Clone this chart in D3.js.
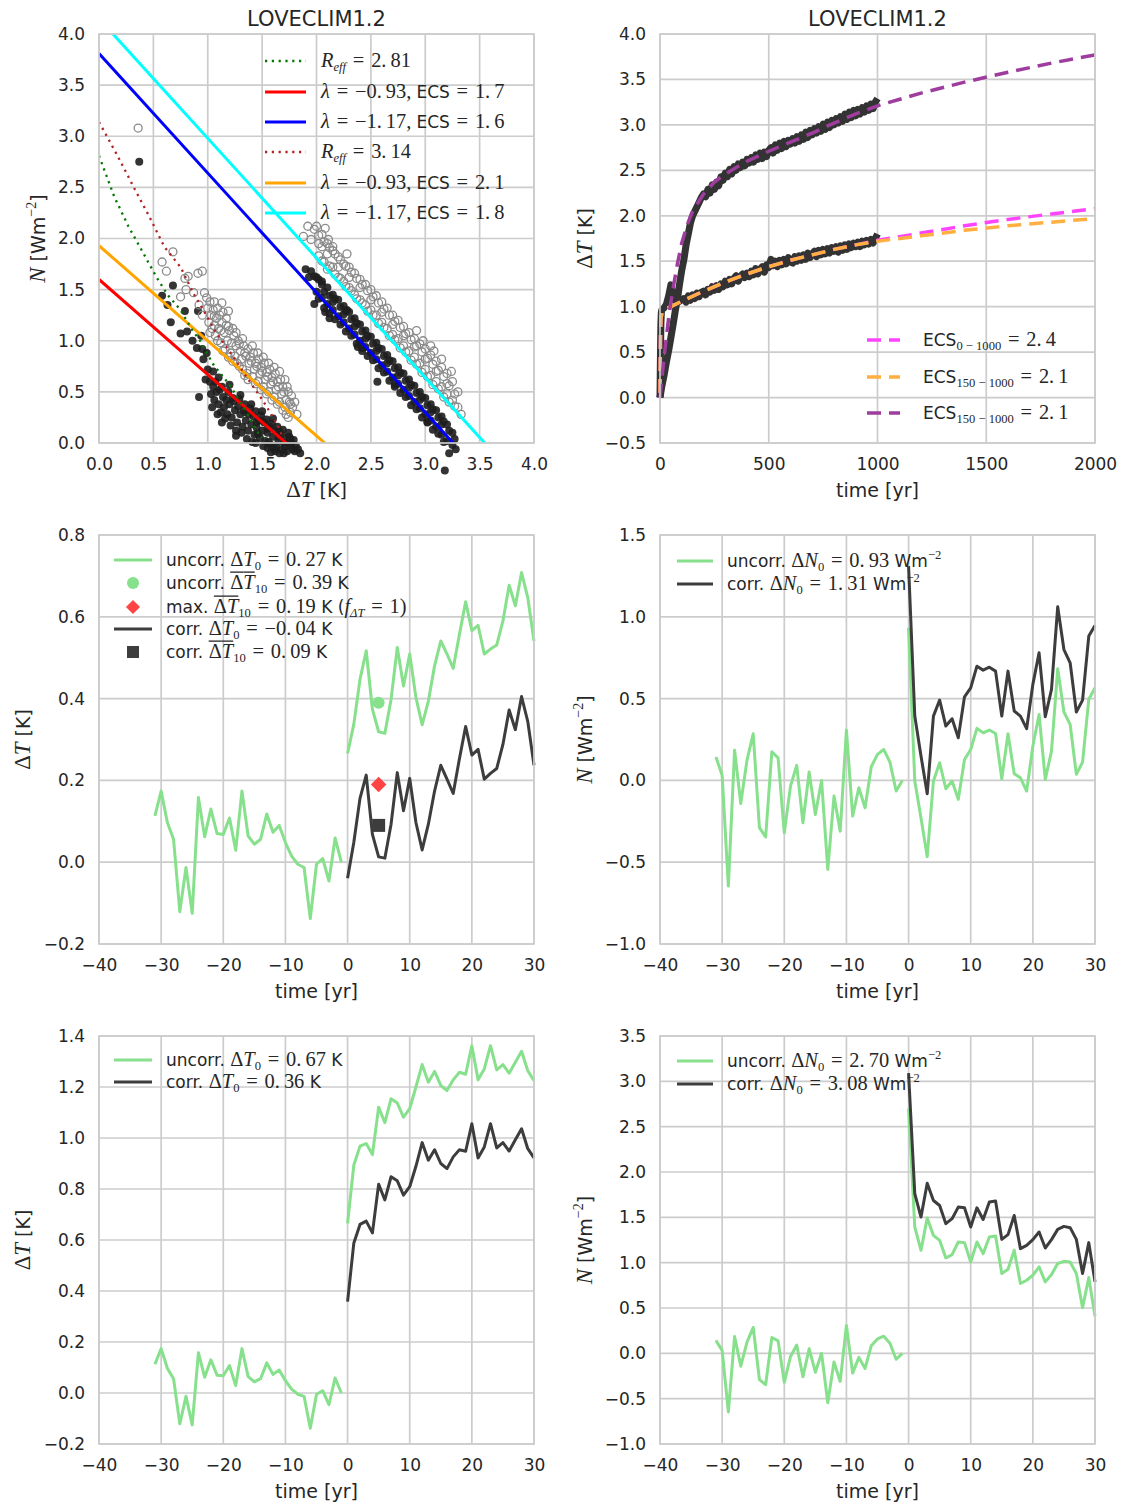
<!DOCTYPE html>
<html>
<head>
<meta charset="utf-8">
<script src="https://cdn.jsdelivr.net/npm/d3@7"></script>
<style>body{margin:0;background:#fff}</style>
</head>
<body>
<div id="chart"></div>
<script>
// ---------- data ----------
const title = 'LOVECLIM1.2';

// top left: N vs dT scatter (two runs), filled = dark, open = grey
const scatDarkA = [[0.37,2.75],[0.68,1.54],[0.58,1.44],[0.63,1.35],[0.66,1.18],[0.75,1.07],[0.81,1.09],[0.79,1.29],[0.91,1.29],[0.92,0.45],[0.86,1.0],[0.9,0.93],[0.96,0.82],[0.99,0.88],[0.94,1.05],[1.0,0.72],
  [1.02,0.6],[1.03,0.48],[1.05,0.55],[1.06,0.42],[1.08,0.5],[1.1,0.38],[1.11,0.52],[1.12,0.3],[1.14,0.45],[1.15,0.35],[1.17,0.42],[1.18,0.28],
  [1.2,0.38],[1.22,0.25],[1.23,0.44],[1.25,0.32],[1.27,0.2],[1.28,0.36],[1.3,0.28],[1.32,0.16],[1.33,0.32],[1.35,0.22],[1.37,0.12],[1.38,0.28],
  [1.4,0.18],[1.42,0.26],[1.43,0.08],[1.45,0.15],[1.47,0.22],[1.48,0.05],[1.5,0.12],[1.52,0.2],[1.53,0.02],[1.55,0.1],[1.57,0.16],[1.58,-0.02],
  [1.6,0.06],[1.62,0.12],[1.63,-0.04],[1.65,0.02],[1.67,0.08],[1.68,-0.06],[1.7,0.0],[1.72,0.05],[1.73,-0.08],[1.75,-0.02],[1.76,0.04],[1.78,-0.06],
  [1.62,-0.08],[1.8,-0.08],[1.55,-0.05],[1.85,-0.1],[1.13,0.2],[1.26,0.12],[1.44,0.0],[1.66,-0.1],
  [1.04,0.35],[1.07,0.6],[1.09,0.28],[1.13,0.55],[1.16,0.24],[1.19,0.5],[1.21,0.17],[1.24,0.41],[1.26,0.07],[1.29,0.43],[1.31,0.1],[1.34,0.38],
  [1.36,0.04],[1.39,0.34],[1.41,0.01],[1.44,0.31],[1.46,0.09],[1.49,0.27],[1.51,-0.03],[1.54,0.23],[1.56,0.01],[1.59,0.19],[1.61,-0.05],[1.64,0.16],
  [1.66,0.11],[1.69,0.13],[1.71,-0.04],[1.74,0.1],[1.77,0.0],[1.79,0.03],[1.81,-0.03],[1.6,0.24],[1.5,0.31],[1.4,0.38],[1.3,0.47],[1.2,0.57],
  [1.1,0.64],[1.05,0.7],[0.98,0.62],[0.95,0.92],[1.35,0.3],[1.45,0.2],[1.55,0.14],[1.65,0.06],[1.75,0.06],[1.7,-0.1],[1.58,-0.09],[1.83,-0.06]];
const scatOpenA = [[0.36,3.08],[0.68,1.87],[0.58,1.77],[0.62,1.68],[0.75,1.43],[0.79,1.61],[0.82,1.63],[0.91,1.66],[0.95,1.68],[0.8,1.5],[0.87,1.47],[0.97,1.47],[0.99,1.42],[1.06,1.38],[1.13,1.37],[1.19,1.29],[0.92,1.35],[0.95,1.25],
  [1.0,1.32],[1.01,1.18],[1.03,1.25],[1.02,1.08],[1.05,1.3],[1.06,1.15],[1.08,1.22],[1.07,1.05],[1.1,1.12],[1.11,1.25],[1.12,0.98],[1.13,1.18],
  [1.15,1.08],[1.16,0.92],[1.17,1.15],[1.18,1.0],[1.2,1.1],[1.21,0.88],[1.22,0.98],[1.24,1.05],[1.25,0.85],[1.26,0.95],[1.28,1.0],[1.27,0.78],
  [1.3,0.9],[1.31,0.82],[1.33,0.95],[1.32,0.72],[1.35,0.85],[1.36,0.68],[1.38,0.78],[1.37,0.92],[1.4,0.8],[1.41,0.65],[1.43,0.72],[1.42,0.88],
  [1.45,0.75],[1.46,0.6],[1.48,0.68],[1.47,0.82],[1.5,0.7],[1.51,0.55],[1.53,0.62],[1.52,0.78],[1.55,0.65],[1.56,0.5],[1.58,0.58],[1.57,0.72],
  [1.6,0.6],[1.61,0.45],[1.63,0.52],[1.62,0.68],[1.65,0.55],[1.66,0.4],[1.68,0.48],[1.67,0.62],[1.7,0.5],[1.71,0.35],[1.72,0.42],[1.73,0.55],
  [1.75,0.4],[1.76,0.3],[1.74,0.25],[1.77,0.46],[1.82,0.28],
  [1.02,1.38],[1.04,1.12],[1.06,1.24],[1.09,1.32],[1.09,1.0],[1.12,1.1],[1.14,1.28],[1.14,0.9],[1.17,1.22],[1.19,0.84],[1.19,1.14],[1.23,1.12],
  [1.23,0.8],[1.26,1.08],[1.29,0.75],[1.29,0.97],[1.32,1.02],[1.34,0.66],[1.34,0.88],[1.37,0.62],[1.39,0.84],[1.41,0.95],[1.44,0.58],[1.44,0.78],
  [1.46,0.88],[1.49,0.52],[1.49,0.74],[1.51,0.84],[1.54,0.48],[1.54,0.69],[1.56,0.78],[1.59,0.42],[1.59,0.64],[1.61,0.74],[1.64,0.38],[1.64,0.6],
  [1.66,0.7],[1.69,0.32],[1.69,0.55],[1.71,0.62],[1.74,0.5],[1.76,0.38],[1.78,0.35],[1.8,0.4],[1.72,0.28]];
const scatDarkB = [[1.9,1.7],[1.95,1.68],[1.98,1.63],[2.05,1.58],[1.93,1.62],[1.98,1.36],[2.08,1.28],[2.38,0.94],[2.56,0.6],
  [2.0,1.62],[2.0,1.48],[2.05,1.55],[2.05,1.42],[2.1,1.52],[2.1,1.36],[2.15,1.45],[2.15,1.3],[2.15,1.38],[2.2,1.4],[2.2,1.24],
  [2.25,1.34],[2.25,1.18],[2.25,1.26],[2.3,1.28],[2.3,1.12],[2.35,1.22],[2.35,1.06],[2.35,1.14],[2.4,1.16],[2.4,1.0],
  [2.45,1.1],[2.45,0.94],[2.45,1.02],[2.5,1.04],[2.5,0.88],[2.55,0.98],[2.55,0.82],[2.55,0.9],[2.6,0.92],[2.6,0.76],
  [2.65,0.86],[2.65,0.7],[2.65,0.78],[2.7,0.8],[2.7,0.64],[2.75,0.74],[2.75,0.58],[2.75,0.66],[2.8,0.68],[2.8,0.52],
  [2.85,0.62],[2.85,0.46],[2.85,0.54],[2.9,0.56],[2.9,0.4],[2.95,0.5],[2.95,0.34],[2.95,0.42],[3.0,0.44],[3.0,0.28],
  [3.05,0.38],[3.05,0.22],[3.05,0.3],[3.1,0.32],[3.1,0.16],[3.15,0.26],[3.15,0.08],[3.15,0.18],[3.2,0.18],[3.2,0.02],
  [3.25,0.1],[3.25,-0.02],[3.22,-0.1],[3.18,-0.27],[3.28,-0.06],[2.12,1.22],[2.42,0.9],[2.72,0.55],[3.02,0.2],[2.28,1.3],
  [2.02,1.6],[2.02,1.41],[2.07,1.48],[2.07,1.32],[2.12,1.44],[2.12,1.27],[2.17,1.41],[2.17,1.21],[2.22,1.33],[2.22,1.16],
  [2.27,1.29],[2.27,1.09],[2.32,1.21],[2.32,1.05],[2.37,1.17],[2.37,0.97],[2.42,1.09],[2.42,0.93],[2.47,1.05],[2.47,0.85],
  [2.52,0.97],[2.52,0.81],[2.57,0.93],[2.57,0.73],[2.62,0.85],[2.62,0.69],[2.67,0.81],[2.67,0.61],[2.72,0.73],[2.72,0.57],
  [2.77,0.69],[2.77,0.49],[2.82,0.61],[2.82,0.45],[2.87,0.57],[2.87,0.37],[2.92,0.49],[2.92,0.33],[2.97,0.45],[2.97,0.25],
  [3.02,0.37],[3.02,0.21],[3.07,0.33],[3.07,0.13],[3.12,0.25],[3.12,0.09],[3.17,0.21],[3.17,0.01],[3.22,0.12],[3.27,0.04]];
const scatOpenB = [[1.92,2.12],[1.98,2.09],[2.05,2.04],[2.11,1.99],[1.88,2.02],[1.95,1.99],[2.0,2.12],[2.08,2.1],[2.02,1.95],[2.15,1.92],
  [2.05,1.78],[2.05,1.92],[2.1,1.95],[2.1,1.7],[2.1,1.85],[2.15,1.88],[2.15,1.72],[2.2,1.82],[2.2,1.62],[2.2,1.72],
  [2.25,1.75],[2.25,1.58],[2.3,1.72],[2.3,1.52],[2.3,1.62],[2.35,1.66],[2.35,1.45],[2.4,1.6],[2.4,1.4],[2.4,1.52],
  [2.45,1.55],[2.45,1.35],[2.5,1.5],[2.5,1.3],[2.5,1.4],[2.55,1.44],[2.55,1.25],[2.6,1.38],[2.6,1.18],[2.6,1.28],
  [2.65,1.32],[2.65,1.12],[2.7,1.25],[2.7,1.06],[2.7,1.16],[2.75,1.2],[2.75,1.02],[2.8,1.14],[2.8,0.95],[2.8,1.05],
  [2.85,1.08],[2.85,0.9],[2.9,1.02],[2.9,0.84],[2.9,0.94],[2.95,0.97],[2.95,0.78],[3.0,0.92],[3.0,0.72],[3.0,0.82],
  [3.05,0.86],[3.05,0.66],[3.1,0.8],[3.1,0.6],[3.1,0.7],[3.15,0.74],[3.15,0.55],[3.2,0.68],[3.2,0.48],[3.2,0.58],
  [3.25,0.6],[3.25,0.42],[3.3,0.5],[3.3,0.35],[3.05,0.95],[3.15,0.82],[3.33,0.28],[2.92,1.1],[2.28,1.85],
  [2.02,2.03],[2.02,1.83],[2.07,1.97],[2.07,1.77],[2.12,1.91],[2.12,1.73],[2.17,1.85],[2.17,1.65],[2.22,1.79],[2.22,1.61],
  [2.27,1.73],[2.27,1.53],[2.32,1.67],[2.32,1.49],[2.37,1.61],[2.37,1.41],[2.42,1.55],[2.42,1.37],[2.47,1.49],[2.47,1.29],
  [2.52,1.43],[2.52,1.25],[2.57,1.37],[2.57,1.17],[2.62,1.31],[2.62,1.13],[2.67,1.25],[2.67,1.05],[2.72,1.19],[2.72,1.01],
  [2.77,1.13],[2.77,0.93],[2.82,1.07],[2.82,0.89],[2.87,1.01],[2.87,0.81],[2.92,0.95],[2.92,0.77],[2.97,0.89],[2.97,0.69],
  [3.02,0.83],[3.02,0.65],[3.07,0.77],[3.07,0.57],[3.12,0.71],[3.12,0.53],[3.17,0.65],[3.17,0.45],[3.22,0.56],[3.22,0.4],
  [3.27,0.48],[3.27,0.36],[3.08,0.9],[3.24,0.7],[2.98,1.0]];
// linear fits N = F + lambda*dT
const fitLambda = [-0.93, -1.17, -0.93, -1.17];
const fitForcing = [1.60, 3.81, 1.93, 4.15];
// effective forcing curves (R_eff)
const reffA = [[0,2.81],[0.14,2.41],[0.27,2.12],[0.39,1.89],[0.53,1.62],[0.63,1.45],[0.75,1.3],[0.86,1.1],[0.93,1.0],[1.05,0.77],[1.2,0.57],[1.33,0.35],[1.45,0.12],[1.5,0.05]];
const reffB = [[0,3.14],[0.17,2.81],[0.33,2.48],[0.46,2.22],[0.6,1.92],[0.75,1.72],[0.87,1.46],[0.96,1.3],[1.08,1.07],[1.2,0.9],[1.36,0.64],[1.51,0.41],[1.64,0.18],[1.68,0.08]];
const EQ = '\u2004=\u2004';
const tlLabels = [
  [['R','ri'],['eff','rib'],[EQ + '2.\u200981','r']],
  [['\u03bb','ri'],[EQ + '\u22120.\u200993, ','r'],['ECS','s'],[EQ + '1.\u20097','r']],
  [['\u03bb','ri'],[EQ + '\u22121.\u200917, ','r'],['ECS','s'],[EQ + '1.\u20096','r']],
  [['R','ri'],['eff','rib'],[EQ + '3.\u200914','r']],
  [['\u03bb','ri'],[EQ + '\u22120.\u200993, ','r'],['ECS','s'],[EQ + '2.\u20091','r']],
  [['\u03bb','ri'],[EQ + '\u22121.\u200917, ','r'],['ECS','s'],[EQ + '1.\u20098','r']]
];

// top right: dT time series of the two runs (every 10 yr after the first decade)
const runYears = [0,2,4,6,8].concat(d3.range(10, 1001, 10));
const dT_runLow = [0.0,0.45,0.8,0.93,0.96,
  0.97,0.99,1.03,1.12,1.24,1.15,1.06,1.09,1.06,1.08,
  1.09,1.05,1.12,1.07,1.13,1.09,1.15,1.11,1.16,1.17,
  1.13,1.19,1.16,1.22,1.18,1.23,1.19,1.25,1.22,1.28,
  1.24,1.30,1.25,1.31,1.34,1.28,1.33,1.36,1.32,1.37,
  1.33,1.39,1.35,1.42,1.36,1.41,1.44,1.38,1.46,1.43,
  1.52,1.45,1.50,1.44,1.51,1.46,1.52,1.47,1.54,1.49,
  1.48,1.55,1.50,1.56,1.51,1.57,1.52,1.59,1.54,1.58,
  1.61,1.55,1.62,1.57,1.63,1.58,1.64,1.59,1.65,1.61,
  1.66,1.60,1.67,1.62,1.68,1.63,1.69,1.65,1.70,1.66,
  1.71,1.66,1.72,1.68,1.73,1.69,1.74,1.70,1.75,1.80];
const dT_runHigh = [0.0,0.03,0.06,0.09,0.12,
  0.14,0.26,0.40,0.52,0.66,0.80,0.95,1.08,1.25,1.40,
  1.52,1.68,1.80,1.92,2.00,2.05,2.10,2.15,2.20,2.24,
  2.21,2.29,2.25,2.34,2.29,2.37,2.33,2.43,2.39,2.47,
  2.43,2.51,2.46,2.54,2.50,2.57,2.53,2.59,2.55,2.62,
  2.58,2.64,2.59,2.67,2.62,2.69,2.63,2.70,2.65,2.72,
  2.75,2.69,2.78,2.72,2.80,2.74,2.82,2.76,2.83,2.79,
  2.85,2.80,2.87,2.82,2.89,2.84,2.92,2.86,2.94,2.89,
  2.96,2.91,2.98,2.93,3.01,2.95,3.03,2.97,3.05,3.00,
  3.07,3.02,3.09,3.04,3.12,3.06,3.14,3.08,3.16,3.10,
  3.17,3.12,3.19,3.14,3.21,3.16,3.23,3.18,3.25,3.29];
const fitYearsLow = [0,1,2,3,5,10,20,50,100,200,300,400,500,600,700,800,900,1000,1200,1400,1600,1800,2000];
const fitEcs0 = [0.05,0.35,0.6,0.75,0.88,0.94,0.97,1.0,1.06,1.17,1.27,1.36,1.44,1.51,1.57,1.63,1.68,1.73,1.81,1.89,1.96,2.02,2.08];
const fitEcs150a = [0.05,0.35,0.6,0.75,0.88,0.94,0.97,1.0,1.06,1.17,1.27,1.36,1.44,1.51,1.57,1.63,1.68,1.72,1.78,1.84,1.89,1.93,1.97];
const fitYearsHigh = [0,10,20,30,40,50,60,80,100,125,150,200,250,300,400,500,600,700,800,900,1000,1200,1400,1600,1800,2000];
const fitEcs150b = [0,0.24,0.47,0.68,0.88,1.05,1.2,1.47,1.7,1.9,2.05,2.24,2.37,2.46,2.6,2.71,2.81,2.91,3.02,3.12,3.21,3.35,3.47,3.58,3.68,3.77];
const trLabels = [
  [['ECS','s'],['0 \u2212 1000','rb'],[EQ + '2.\u20094','r']],
  [['ECS','s'],['150 \u2212 1000','rb'],[EQ + '2.\u20091','r']],
  [['ECS','s'],['150 \u2212 1000','rb'],[EQ + '2.\u20091','r']]
];

// lower panels: yearly anomalies around the switch-on
const preYears = d3.range(-31, 0);
const postYears = d3.range(0, 31);
const dT_pre = [0.113,0.174,0.097,0.056,-0.121,-0.013,-0.125,0.158,0.062,0.13,0.07,0.068,0.108,0.029,0.174,0.064,0.044,0.056,0.118,0.073,0.09,0.048,0.015,-0.005,-0.013,-0.138,-0.005,0.009,-0.046,0.059,0.0];
const N_pre = [0.143,0.031,-0.646,0.185,-0.141,0.124,0.285,-0.289,-0.346,0.175,0.138,-0.32,-0.035,0.092,-0.259,0.051,-0.208,0.0,-0.544,-0.096,-0.31,0.308,-0.218,-0.045,-0.167,0.084,0.159,0.189,0.112,-0.065,0.0];
const dT_midUncorr = [0.266,0.337,0.447,0.517,0.374,0.319,0.315,0.398,0.525,0.431,0.509,0.403,0.336,0.394,0.48,0.541,0.509,0.474,0.557,0.637,0.566,0.579,0.509,0.521,0.531,0.59,0.677,0.627,0.708,0.647,0.541];
const dT_midCorr = [-0.039,0.048,0.156,0.213,0.068,0.013,0.01,0.093,0.219,0.126,0.205,0.097,0.03,0.093,0.174,0.237,0.203,0.168,0.253,0.332,0.262,0.276,0.203,0.217,0.229,0.288,0.372,0.324,0.405,0.344,0.237];
const dT_midMarkYear = 5;
const dT_midMarks = [0.39, 0.19, 0.09];   // uncorr mean10, max mean10, corr mean10
const N_midUncorr = [0.933,-0.004,-0.23,-0.466,-0.004,0.108,-0.051,-0.004,-0.116,0.128,0.189,0.318,0.291,0.308,0.287,0.01,0.285,0.041,0.016,-0.065,0.21,0.403,0.006,0.179,0.682,0.418,0.342,0.037,0.112,0.495,0.566];
const N_midCorr = [1.31,0.393,0.149,-0.081,0.393,0.491,0.332,0.377,0.261,0.511,0.566,0.698,0.674,0.692,0.668,0.393,0.668,0.424,0.393,0.316,0.587,0.78,0.389,0.556,1.061,0.8,0.719,0.418,0.491,0.882,0.947];
const dT_botUncorr = [0.665,0.893,0.968,0.978,0.935,1.121,1.06,1.154,1.137,1.082,1.115,1.2,1.288,1.219,1.261,1.206,1.186,1.228,1.258,1.25,1.362,1.228,1.271,1.362,1.267,1.288,1.254,1.297,1.34,1.264,1.225];
const dT_botCorr = [0.358,0.587,0.661,0.674,0.628,0.819,0.757,0.848,0.832,0.776,0.809,0.889,0.982,0.913,0.954,0.9,0.88,0.926,0.954,0.948,1.056,0.922,0.965,1.056,0.961,0.982,0.949,0.993,1.036,0.958,0.922];
const N_botUncorr = [2.70,1.393,1.137,1.492,1.301,1.246,1.052,1.089,1.228,1.221,1.008,1.228,1.1,1.283,1.294,0.88,0.927,1.137,0.77,0.806,0.861,0.953,0.788,0.869,0.99,1.015,1.008,0.88,0.502,0.836,0.41];
const N_botCorr = [3.09,1.76,1.503,1.877,1.686,1.631,1.43,1.485,1.613,1.605,1.393,1.605,1.477,1.668,1.679,1.257,1.309,1.521,1.155,1.191,1.254,1.338,1.162,1.254,1.367,1.4,1.386,1.257,0.88,1.221,0.788];

const timeTicks = [-40,-30,-20,-10,0,10,20,30];

// ---------- style ----------
const SANS = "'DejaVu Sans', sans-serif";
const SERIF = "'Liberation Serif', 'DejaVu Serif', serif";
const INK = '#262626';
const GRID = '#cccccc';
const LGREEN = '#86e08c';
const DARK = '#3d3d3d';
const TICK = 17, LAB = 19, LEG = 17;

const svg = d3.select('#chart').append('svg')
  .attr('width', 1126).attr('height', 1506)
  .style('background', '#fff');

// mixed sans / math text, pieces laid out one after another
function rich(g, x, y, parts, size) {
  let cx = x;
  const overs = [];
  parts.forEach(([t, st]) => {
    const sans = st.includes('s'), sub = st.includes('b'), sup = st.includes('p');
    let fs = sans ? size : size * 1.2;
    if (sub || sup) fs = size * 0.74;
    const dy = sub ? size * 0.2 : sup ? -size * 0.45 : 0;
    const el = g.append('text')
      .attr('x', cx).attr('y', y + dy)
      .attr('fill', INK)
      .attr('xml:space', 'preserve')
      .style('white-space', 'pre')
      .style('font-family', sans ? SANS : SERIF)
      .style('font-style', st.includes('i') ? 'italic' : 'normal')
      .style('font-size', fs + 'px')
      .text(t);
    const w = el.node().getComputedTextLength();
    if (st.includes('o')) overs.push([cx, cx + w]);
    cx += w;
  });
  overs.forEach(([a, b]) => g.append('line')
    .attr('x1', a).attr('x2', b)
    .attr('y1', y - size * 1.0).attr('y2', y - size * 1.0)
    .attr('stroke', INK).attr('stroke-width', 1.3));
  return cx - x;
}

function richCentered(g, cx, cy, parts, size, rot) {
  const gg = g.append('g').attr('transform', `translate(${cx},${cy}) rotate(${rot || 0})`);
  const inner = gg.append('g');
  const w = rich(inner, 0, 0, parts, size);
  inner.attr('transform', `translate(${-w / 2},${size * 0.36})`);
}

function panel(o) {
  const g = svg.append('g').attr('transform', `translate(${o.x0},${o.y0})`);
  const x = d3.scaleLinear().domain(o.xd).range([0, o.w]);
  const y = d3.scaleLinear().domain(o.yd).range([o.h, 0]);
  const grid = g.append('g');
  grid.selectAll('line.v').data(o.xt).join('line').attr('class', 'v')
    .attr('x1', d => x(d)).attr('x2', d => x(d)).attr('y1', 0).attr('y2', o.h);
  grid.selectAll('line.h').data(o.yt).join('line').attr('class', 'h')
    .attr('y1', d => y(d)).attr('y2', d => y(d)).attr('x1', 0).attr('x2', o.w);
  grid.selectAll('line').attr('stroke', GRID).attr('stroke-width', 1.7);

  const ax = g.append('g').attr('transform', `translate(0,${o.h})`)
    .call(d3.axisBottom(x).tickValues(o.xt).tickFormat(o.xf).tickSize(0).tickPadding(15));
  const ay = g.append('g')
    .call(d3.axisLeft(y).tickValues(o.yt).tickFormat(o.yf).tickSize(0).tickPadding(14));
  [ax, ay].forEach(a => {
    a.select('.domain').remove();
    a.selectAll('text').attr('fill', INK).style('font-family', SANS).style('font-size', TICK + 'px');
  });
  const clipId = 'clip' + Math.round(o.x0) + '_' + Math.round(o.y0);
  g.append('clipPath').attr('id', clipId).append('rect').attr('width', o.w).attr('height', o.h);
  const data = g.append('g');
  const clipped = g.append('g').attr('clip-path', `url(#${clipId})`);
  const top = g.append('g');
  top.append('rect').attr('width', o.w).attr('height', o.h)
    .attr('fill', 'none').attr('stroke', GRID).attr('stroke-width', 1.7);
  richCentered(g, o.w / 2, o.h + 47, o.xl, LAB, 0);
  richCentered(g, o.ylx, o.h / 2, o.yl, LAB, -90);
  if (o.title) richCentered(g, o.w / 2, -16, [[o.title, 's']], 21, 0);
  return { g, x, y, data, clipped, top };
}

const f1 = d3.format('.1f'), fd = d3.format('d');
const labN = [['N', 'ri'], [' [Wm', 's'], ['\u22122', 'rp'], [']', 's']];
const labT = [['\u0394', 'r'], ['T', 'ri'], [' [K]', 's']];
const labTime = [['time [yr]', 's']];

// legend helper: rows of [handle, label]
function legend(rows, sx0, sx1, tx) {
  rows.forEach(r => {
    const h = r.handle;
    if (h.type === 'line') {
      svg.append('line').attr('x1', sx0).attr('x2', sx1).attr('y1', r.y).attr('y2', r.y)
        .attr('stroke', h.color).attr('stroke-width', h.width)
        .attr('stroke-dasharray', h.dash || null);
    } else if (h.type === 'circle') {
      svg.append('circle').attr('cx', (sx0 + sx1) / 2).attr('cy', r.y).attr('r', 6).attr('fill', h.color);
    } else if (h.type === 'diamond') {
      svg.append('rect').attr('x', -5).attr('y', -5).attr('width', 10).attr('height', 10)
        .attr('fill', h.color).attr('transform', `translate(${(sx0 + sx1) / 2},${r.y}) rotate(45)`);
    } else if (h.type === 'square') {
      svg.append('rect').attr('x', (sx0 + sx1) / 2 - 6).attr('y', r.y - 6).attr('width', 12).attr('height', 12)
        .attr('fill', h.color);
    }
    rich(svg, tx, r.y + LEG * 0.36, r.label, LEG);
  });
}

// ---------- top left ----------
{
  const p = panel({ x0: 99, y0: 34, w: 435, h: 409, xd: [0, 4], yd: [0, 4],
    xt: d3.range(0, 4.01, 0.5), yt: d3.range(0, 4.01, 0.5), xf: f1, yf: f1,
    xl: labT, yl: labN, ylx: -61, title: title });
  const dot = (sel, pts) => sel.selectAll(null).data(pts).join('circle')
    .attr('cx', d => p.x(d[0])).attr('cy', d => p.y(d[1])).attr('r', 4);
  dot(p.data.append('g'), scatDarkA).attr('fill', '#1e1e1e').attr('fill-opacity', 0.9);
  dot(p.data.append('g'), scatDarkB).attr('fill', '#1e1e1e').attr('fill-opacity', 0.9);
  dot(p.data.append('g'), scatOpenA).attr('fill', 'none').attr('stroke', '#8a8a8a').attr('stroke-width', 1.3);
  dot(p.data.append('g'), scatOpenB).attr('fill', 'none').attr('stroke', '#8a8a8a').attr('stroke-width', 1.3);

  const fitColors = ['#ff0000', '#0000ff', '#ffa500', '#00ffff'];
  fitLambda.forEach((lam, i) => {
    p.clipped.append('line')
      .attr('x1', p.x(0)).attr('y1', p.y(fitForcing[i]))
      .attr('x2', p.x(4)).attr('y2', p.y(fitForcing[i] + lam * 4))
      .attr('stroke', fitColors[i]).attr('stroke-width', 3);
  });
  const ln = d3.line().x(d => p.x(d[0])).y(d => p.y(d[1]));
  p.clipped.append('path').attr('d', ln(reffA)).attr('fill', 'none')
    .attr('stroke', '#007800').attr('stroke-width', 2.3).attr('stroke-dasharray', '2.2,4.6');
  p.clipped.append('path').attr('d', ln(reffB)).attr('fill', 'none')
    .attr('stroke', '#b22222').attr('stroke-width', 2.3).attr('stroke-dasharray', '2.2,4.6');

  const hs = [
    { type: 'line', color: '#007800', width: 2.3, dash: '2.2,4.6' },
    { type: 'line', color: '#ff0000', width: 3 },
    { type: 'line', color: '#0000ff', width: 3 },
    { type: 'line', color: '#b22222', width: 2.3, dash: '2.2,4.6' },
    { type: 'line', color: '#ffa500', width: 3 },
    { type: 'line', color: '#00ffff', width: 3 }
  ];
  const ys = [61, 92, 122, 152, 183, 213];
  legend(tlLabels.map((l, i) => ({ y: ys[i], label: l, handle: hs[i] })), 265, 306, 321);
}

// ---------- top right ----------
{
  const p = panel({ x0: 660, y0: 34, w: 435, h: 409, xd: [0, 2000], yd: [-0.5, 4],
    xt: d3.range(0, 2001, 500), yt: d3.range(-0.5, 4.01, 0.5), xf: fd, yf: f1,
    xl: labTime, yl: labT, ylx: -75, title: title });
  const ln = d3.line().x(d => p.x(d[0])).y(d => p.y(d[1]));
  [dT_runLow, dT_runHigh].forEach(v => {
    p.data.append('path').attr('d', ln(runYears.map((t, i) => [t, v[i]])))
      .attr('fill', 'none').attr('stroke', '#333').attr('stroke-width', 7)
      .attr('stroke-linejoin', 'round');
  });
  const fits = [[fitYearsLow, fitEcs0, '#ff44ff'], [fitYearsLow, fitEcs150a, '#ffb040'], [fitYearsHigh, fitEcs150b, '#9e3d9e']];
  fits.forEach(([yr, v, c]) => {
    p.data.append('path').attr('d', ln(yr.map((t, i) => [t, v[i]])))
      .attr('fill', 'none').attr('stroke', c).attr('stroke-width', 3.5)
      .attr('stroke-dasharray', '14,8');
  });
  const ys = [340, 377, 413];
  legend(trLabels.map((l, i) => ({ y: ys[i], label: l,
    handle: { type: 'line', color: fits[i][2], width: 3.5, dash: '14,8' } })), 867, 900, 923);
}

// ---------- lower panels ----------
function seriesPanel(o, pre, uncorr, corr) {
  const p = panel(Object.assign({ w: 435, xd: [-40, 30], xt: timeTicks, xf: fd, yf: f1, xl: labTime }, o));
  const ln = d3.line().x(d => p.x(d[0])).y(d => p.y(d[1]));
  p.data.append('path').attr('d', ln(preYears.map((t, i) => [t, pre[i]])))
    .attr('fill', 'none').attr('stroke', LGREEN).attr('stroke-width', 3).attr('stroke-linejoin', 'round');
  p.data.append('path').attr('d', ln(postYears.map((t, i) => [t, uncorr[i]])))
    .attr('fill', 'none').attr('stroke', LGREEN).attr('stroke-width', 3).attr('stroke-linejoin', 'round');
  p.data.append('path').attr('d', ln(postYears.map((t, i) => [t, corr[i]])))
    .attr('fill', 'none').attr('stroke', DARK).attr('stroke-width', 3).attr('stroke-linejoin', 'round');
  return p;
}

// middle left
{
  const p = seriesPanel({ x0: 99, y0: 535, h: 409, yd: [-0.2, 0.8], yt: d3.range(-0.2, 0.81, 0.2),
    yl: labT, ylx: -76 }, dT_pre, dT_midUncorr, dT_midCorr);
  const mx = p.x(dT_midMarkYear);
  p.data.append('circle').attr('cx', mx).attr('cy', p.y(dT_midMarks[0])).attr('r', 6).attr('fill', LGREEN);
  p.data.append('rect').attr('x', -5.5).attr('y', -5.5).attr('width', 11).attr('height', 11)
    .attr('fill', '#ff4444').attr('transform', `translate(${mx},${p.y(dT_midMarks[1])}) rotate(45)`);
  p.data.append('rect').attr('x', mx - 6.5).attr('y', p.y(dT_midMarks[2]) - 6.5).attr('width', 13).attr('height', 13)
    .attr('fill', DARK);
  legend([
    { y: 560, handle: { type: 'line', color: LGREEN, width: 3 },
      label: [['uncorr. ', 's'], ['\u0394', 'r'], ['T', 'ri'], ['0', 'rb'], [EQ + '0.\u200927', 'r'], [' K', 's']] },
    { y: 583, handle: { type: 'circle', color: LGREEN },
      label: [['uncorr. ', 's'], ['\u0394', 'ro'], ['T', 'rio'], ['10', 'rb'], [EQ + '0.\u200939', 'r'], [' K', 's']] },
    { y: 607, handle: { type: 'diamond', color: '#ff4444' },
      label: [['max. ', 's'], ['\u0394', 'ro'], ['T', 'rio'], ['10', 'rb'], [EQ + '0.\u200919', 'r'], [' K (', 's'], ['f', 'ri'], ['\u0394T', 'rib'], [EQ + '1)', 'r']] },
    { y: 629, handle: { type: 'line', color: DARK, width: 3 },
      label: [['corr. ', 's'], ['\u0394', 'r'], ['T', 'ri'], ['0', 'rb'], [EQ + '\u22120.\u200904', 'r'], [' K', 's']] },
    { y: 652, handle: { type: 'square', color: DARK },
      label: [['corr. ', 's'], ['\u0394', 'ro'], ['T', 'rio'], ['10', 'rb'], [EQ + '0.\u200909', 'r'], [' K', 's']] }
  ], 114, 152, 166);
}

// middle right
{
  seriesPanel({ x0: 660, y0: 535, h: 409, yd: [-1, 1.5], yt: d3.range(-1, 1.51, 0.5),
    yl: labN, ylx: -75 }, N_pre, N_midUncorr, N_midCorr);
  legend([
    { y: 561, handle: { type: 'line', color: LGREEN, width: 3 },
      label: [['uncorr. ', 's'], ['\u0394', 'r'], ['N', 'ri'], ['0', 'rb'], [EQ + '0.\u200993', 'r'], [' Wm', 's'], ['\u22122', 'rp']] },
    { y: 584, handle: { type: 'line', color: DARK, width: 3 },
      label: [['corr. ', 's'], ['\u0394', 'r'], ['N', 'ri'], ['0', 'rb'], [EQ + '1.\u200931', 'r'], [' Wm', 's'], ['\u22122', 'rp']] }
  ], 677, 713, 727);
}

// bottom left
{
  seriesPanel({ x0: 99, y0: 1036, h: 408, yd: [-0.2, 1.4], yt: d3.range(-0.2, 1.41, 0.2),
    yl: labT, ylx: -76 }, dT_pre, dT_botUncorr, dT_botCorr);
  legend([
    { y: 1060, handle: { type: 'line', color: LGREEN, width: 3 },
      label: [['uncorr. ', 's'], ['\u0394', 'r'], ['T', 'ri'], ['0', 'rb'], [EQ + '0.\u200967', 'r'], [' K', 's']] },
    { y: 1082, handle: { type: 'line', color: DARK, width: 3 },
      label: [['corr. ', 's'], ['\u0394', 'r'], ['T', 'ri'], ['0', 'rb'], [EQ + '0.\u200936', 'r'], [' K', 's']] }
  ], 114, 152, 166);
}

// bottom right
{
  seriesPanel({ x0: 660, y0: 1036, h: 408, yd: [-1, 3.5], yt: d3.range(-1, 3.51, 0.5),
    yl: labN, ylx: -75 }, N_pre, N_botUncorr, N_botCorr);
  legend([
    { y: 1061, handle: { type: 'line', color: LGREEN, width: 3 },
      label: [['uncorr. ', 's'], ['\u0394', 'r'], ['N', 'ri'], ['0', 'rb'], [EQ + '2.\u200970', 'r'], [' Wm', 's'], ['\u22122', 'rp']] },
    { y: 1084, handle: { type: 'line', color: DARK, width: 3 },
      label: [['corr. ', 's'], ['\u0394', 'r'], ['N', 'ri'], ['0', 'rb'], [EQ + '3.\u200908', 'r'], [' Wm', 's'], ['\u22122', 'rp']] }
  ], 677, 713, 727);
}
</script>
</body>
</html>
